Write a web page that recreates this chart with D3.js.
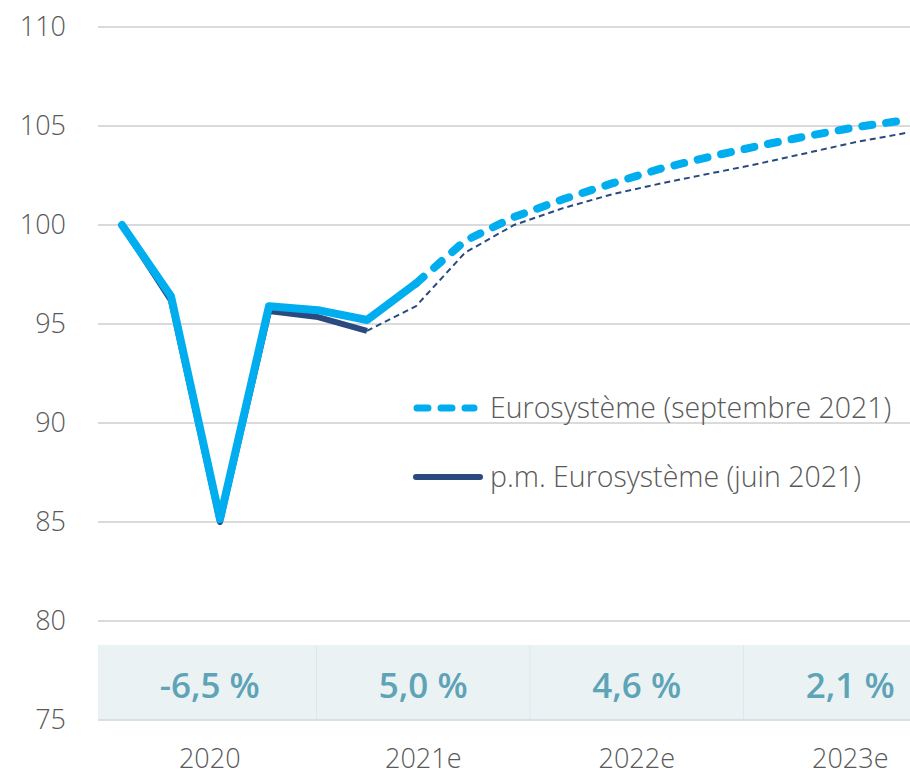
<!DOCTYPE html>
<html>
<head>
<meta charset="utf-8">
<script src="https://cdn.jsdelivr.net/npm/d3@7"></script>
<style>
  body { margin: 0; background: #fff; }
  text { font-family: "Open Sans", "Noto Sans", sans-serif; }
</style>
</head>
<body>
<div id="chart"></div>
<script>
// quarters, index 2019T4 = 100
var quarters = ["2019T4", "2020T1", "2020T2", "2020T3", "2020T4",
    "2021T1", "2021T2", "2021T3", "2021T4",
    "2022T1", "2022T2", "2022T3", "2022T4",
    "2023T1", "2023T2", "2023T3", "2023T4"];

// Eurosysteme septembre 2021
var septValues = [100, 96.4, 85.15, 95.9, 95.7, 95.2, 97.05, 99.2, 100.4,
    101.3, 102.1, 102.85, 103.45, 104.0, 104.5, 104.95, 105.3];
// p.m. Eurosysteme juin 2021
var juneValues = [100, 96.2, 85.0, 95.65, 95.35, 94.65, 95.9, 98.6, 100.0,
    100.85, 101.55, 102.1, 102.6, 103.1, 103.65, 104.2, 104.65];

// last observed quarter for each projection
var septLastObs = 6;
var juneLastObs = 5;

var years = ["2020", "2021e", "2022e", "2023e"];
var growth = ["-6,5 %", "5,0 %", "4,6 %", "2,1 %"];

var yTicks = [75, 80, 85, 90, 95, 100, 105, 110];

var svgWidth = 910;
var svgHeight = 777;

var lightBlue = "#00aeef";
var darkBlue = "#2a4a7f";

var svg = d3.select("#chart")
    .append("svg")
    .attr("width", svgWidth)
    .attr("height", svgHeight);

var x = d3.scalePoint()
    .domain(quarters)
    .range([122, 906]);

var y = d3.scaleLinear()
    .domain([75, 110])
    .range([720, 27]);

var xBand = d3.scaleBand()
    .domain(years)
    .range([103, 957]);

// growth band at the bottom
var bandTop = 645;
svg.append("rect")
    .attr("x", 98)
    .attr("y", bandTop)
    .attr("width", svgWidth - 98)
    .attr("height", y(75) - bandTop)
    .attr("fill", "#eaf2f4");

svg.selectAll(".sep")
    .data(years.slice(1))
    .enter()
    .append("line")
    .attr("x1", d => xBand(d))
    .attr("x2", d => xBand(d))
    .attr("y1", bandTop)
    .attr("y2", y(75))
    .attr("stroke", "#dde8eb")
    .attr("stroke-width", 1);

svg.selectAll(".growth")
    .data(years)
    .enter()
    .append("text")
    .attr("x", d => xBand(d) + xBand.bandwidth() / 2)
    .attr("y", 698)
    .attr("text-anchor", "middle")
    .attr("font-size", 35)
    .attr("font-weight", 600)
    .attr("fill", "#5ea3b6")
    .text((d, i) => growth[i]);

// gridlines
svg.selectAll(".grid")
    .data(yTicks)
    .enter()
    .append("line")
    .attr("x1", 98)
    .attr("x2", svgWidth)
    .attr("y1", d => y(d))
    .attr("y2", d => y(d))
    .attr("stroke", d => d === 75 ? "#d6e1e5" : "#dadada")
    .attr("stroke-width", 2);

// y tick labels
svg.selectAll(".ylab")
    .data(yTicks)
    .enter()
    .append("text")
    .attr("x", 66)
    .attr("y", d => y(d))
    .attr("dy", "0.35em")
    .attr("text-anchor", "end")
    .attr("font-size", 27)
    .attr("font-weight", 300)
    .attr("fill", "#595959")
    .text(d => d);

// year labels
svg.selectAll(".xlab")
    .data(years)
    .enter()
    .append("text")
    .attr("x", d => xBand(d) + xBand.bandwidth() / 2)
    .attr("y", 768)
    .attr("text-anchor", "middle")
    .attr("font-size", 27)
    .attr("font-weight", 300)
    .attr("fill", "#595959")
    .text(d => d);

var line = d3.line()
    .x(d => x(d.q))
    .y(d => y(d.v));

function pts(values, from, to) {
    return values.map((v, i) => ({ q: quarters[i], v: v })).slice(from, to + 1);
}

// june projection (under)
svg.append("path")
    .datum(pts(juneValues, 0, juneLastObs))
    .attr("d", line)
    .attr("fill", "none")
    .attr("stroke", darkBlue)
    .attr("stroke-width", 6)
    .attr("stroke-linejoin", "round");

svg.append("path")
    .datum(pts(juneValues, juneLastObs, quarters.length - 1))
    .attr("d", line)
    .attr("fill", "none")
    .attr("stroke", darkBlue)
    .attr("stroke-width", 2)
    .attr("stroke-dasharray", "6,4");

// september projection
svg.append("path")
    .datum(pts(septValues, 0, septLastObs))
    .attr("d", line)
    .attr("fill", "none")
    .attr("stroke", lightBlue)
    .attr("stroke-width", 8)
    .attr("stroke-linejoin", "round")
    .attr("stroke-linecap", "round");

svg.append("path")
    .datum(pts(septValues, septLastObs, quarters.length - 1))
    .attr("d", line)
    .attr("fill", "none")
    .attr("stroke", lightBlue)
    .attr("stroke-width", 8)
    .attr("stroke-linecap", "round")
    .attr("stroke-dasharray", "10,14");

// legend
var legend = svg.append("g");

legend.append("line")
    .attr("x1", 417).attr("x2", 474)
    .attr("y1", 408).attr("y2", 408)
    .attr("stroke", lightBlue)
    .attr("stroke-width", 7)
    .attr("stroke-linecap", "round")
    .attr("stroke-dasharray", "11,13");

legend.append("text")
    .attr("x", 490)
    .attr("y", 408)
    .attr("dy", "0.35em")
    .attr("font-size", 28.5)
    .attr("font-weight", 300)
    .attr("fill", "#595959")
    .text("Eurosystème (septembre 2021)");

legend.append("line")
    .attr("x1", 416).attr("x2", 480)
    .attr("y1", 477).attr("y2", 477)
    .attr("stroke", darkBlue)
    .attr("stroke-width", 6)
    .attr("stroke-linecap", "round");

legend.append("text")
    .attr("x", 490)
    .attr("y", 477)
    .attr("dy", "0.35em")
    .attr("font-size", 28.5)
    .attr("font-weight", 300)
    .attr("fill", "#595959")
    .text("p.m. Eurosystème (juin 2021)");
</script>
</body>
</html>
